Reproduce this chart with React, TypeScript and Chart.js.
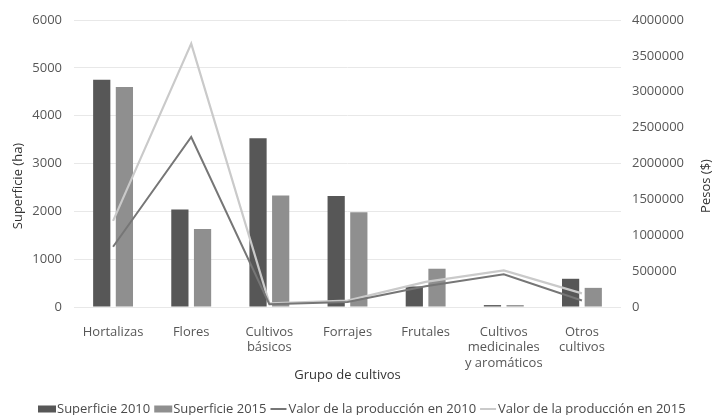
import React, { useEffect, useRef } from "react";
import { Chart, registerables } from "chart.js";

Chart.register(...registerables);

// Crop groups (multi-line labels as arrays)
const categories: (string | string[])[] = [
  "Hortalizas",
  "Flores",
  ["Cultivos", "básicos"],
  "Forrajes",
  "Frutales",
  ["Cultivos", "medicinales", "y aromáticos"],
  ["Otros", "cultivos"],
];

// Surface in hectares
const superficie2010 = [4750, 2040, 3530, 2320, 430, 40, 590];
const superficie2015 = [4600, 1630, 2330, 1980, 800, 40, 400];

// Value of production in pesos
const valor2010 = [840000, 2370000, 40000, 70000, 290000, 455000, 90000];
const valor2015 = [1200000, 3670000, 50000, 90000, 350000, 510000, 190000];

const seriesNames = [
  "Superficie 2010",
  "Superficie 2015",
  "Valor de la producción en 2010",
  "Valor de la producción en 2015",
];

const leftTitle = "Superficie (ha)";
const rightTitle = "Pesos ($)";

const FONT = "'Open Sans', sans-serif";
const COL_BAR_2010 = "#575757";
const COL_BAR_2015 = "#8f8f8f";
const COL_LINE_2010 = "#767676";
const COL_LINE_2015 = "#cacaca";
const TICK_COLOR = "#575757";
const TITLE_COLOR = "#333";

// Vertical axis titles (both read bottom-to-top) and a single-row legend
const decorations = {
  id: "decorations",
  afterDraw(chart: Chart) {
    const { ctx } = chart;
    ctx.save();
    ctx.font = `13px ${FONT}`;

    // axis titles
    ctx.fillStyle = TITLE_COLOR;
    ctx.textAlign = "center";
    ctx.textBaseline = "middle";
    [
      [18, leftTitle],
      [706.5, rightTitle],
    ].forEach(([x, text]) => {
      ctx.save();
      ctx.translate(x as number, 186);
      ctx.rotate(-Math.PI / 2);
      ctx.fillText(text as string, 0, 0);
      ctx.restore();
    });

    // legend
    ctx.textAlign = "left";
    const y = 409;
    let x = 38;
    chart.data.datasets.forEach((ds: any) => {
      if (ds.type === "line") {
        ctx.strokeStyle = ds.borderColor;
        ctx.lineWidth = 2;
        ctx.beginPath();
        ctx.moveTo(x, y);
        ctx.lineTo(x + 16, y);
        ctx.stroke();
        x += 18;
      } else {
        ctx.fillStyle = ds.backgroundColor;
        ctx.fillRect(x, y - 3.5, 18, 7);
        x += 19;
      }
      ctx.fillStyle = "#4a4a4a";
      ctx.fillText(ds.label, x, y);
      x += ctx.measureText(ds.label).width + 4;
    });
    ctx.restore();
  },
};

const plainNumber = (v: number | string) => String(v);

export default function App() {
  const canvasRef = useRef<HTMLCanvasElement | null>(null);

  useEffect(() => {
    document.body.style.margin = "0";
    const canvas = canvasRef.current;
    if (!canvas) return;

    const chart = new Chart(canvas, {
      type: "bar",
      data: {
        labels: categories as any,
        datasets: [
          {
            type: "bar",
            label: seriesNames[0],
            data: superficie2010,
            yAxisID: "y",
            backgroundColor: COL_BAR_2010,
            categoryPercentage: 0.58,
            barPercentage: 0.76,
            order: 1,
          },
          {
            type: "bar",
            label: seriesNames[1],
            data: superficie2015,
            yAxisID: "y",
            backgroundColor: COL_BAR_2015,
            categoryPercentage: 0.58,
            barPercentage: 0.76,
            order: 1,
          },
          {
            type: "line",
            label: seriesNames[2],
            data: valor2010,
            yAxisID: "y1",
            borderColor: COL_LINE_2010,
            backgroundColor: COL_LINE_2010,
            borderWidth: 2,
            pointRadius: 0,
            tension: 0,
            order: 0,
          },
          {
            type: "line",
            label: seriesNames[3],
            data: valor2015,
            yAxisID: "y1",
            borderColor: COL_LINE_2015,
            backgroundColor: COL_LINE_2015,
            borderWidth: 2.2,
            pointRadius: 0,
            tension: 0,
            order: 0,
          },
        ],
      },
      options: {
        responsive: false,
        animation: false,
        layout: { padding: { top: 20, bottom: 20, left: 0, right: 0 } },
        plugins: {
          legend: { display: false },
          tooltip: { enabled: false },
        },
        scales: {
          x: {
            grid: { display: false },
            border: { display: false },
            ticks: {
              color: TICK_COLOR,
              font: { family: FONT, size: 13 },
              padding: 9,
              maxRotation: 0,
              autoSkip: false,
            },
            title: {
              display: true,
              text: "Grupo de cultivos",
              color: TITLE_COLOR,
              font: { family: FONT, size: 13 },
              padding: { top: 0, bottom: 12 },
            },
            afterFit(scale: any) {
              scale.height = 88;
            },
          },
          y: {
            position: "left",
            min: 0,
            max: 6000,
            grid: { color: "#e8e8e8", drawTicks: false },
            border: { display: false },
            ticks: {
              stepSize: 1000,
              color: TICK_COLOR,
              font: { family: FONT, size: 13 },
              padding: 12,
              callback: plainNumber,
            },
            afterFit(scale: any) {
              scale.width = 74;
            },
          },
          y1: {
            position: "right",
            min: 0,
            max: 4000000,
            grid: { display: false, drawTicks: false },
            border: { display: false },
            ticks: {
              stepSize: 500000,
              color: TICK_COLOR,
              font: { family: FONT, size: 13 },
              padding: 11,
              callback: plainNumber,
            },
            afterFit(scale: any) {
              scale.width = 93;
            },
          },
        },
      },
      plugins: [decorations],
    });

    return () => chart.destroy();
  }, []);

  return (
    <div style={{ position: "absolute", left: 0, top: 0, width: 714, height: 415 }}>
      <canvas ref={canvasRef} width={714} height={415} />
    </div>
  );
}
